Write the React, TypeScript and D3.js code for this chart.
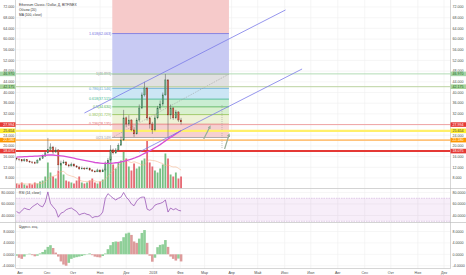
import React, { useEffect } from 'react';
import * as d3 from 'd3';

const W = 466;
const H = 275;

// ---- data (3-day samples starting 2017-07-28) ----
const startDate = new Date(2017, 6, 28);
const stepDays = 3;
const firstOpen = 15.4;
const closes = [15.1, 14.8, 14.4, 14.9, 14.3, 14.0, 13.7, 13.6, 14.7, 15.3, 16.2, 17.4, 18.8, 19.6, 17.7, 18.5,
  12.9, 13.6, 14.0, 12.9, 12.5, 13.2, 12.5, 12.1, 11.4, 11.7, 11.4, 11.7, 11.0, 10.6, 10.3, 11.0,
  10.3, 11.0, 13.6, 14.7, 18.5, 17.4, 18.5, 20.3, 22.2, 30.5, 28.2, 29.7, 26.0, 24.5, 29.7, 34.2,
  39.1, 41.7, 30.5, 28.2, 26.0, 30.5, 34.2, 35.7, 39.1, 44.7, 31.6, 34.2, 30.5, 32.7, 29.7, 29.0];
const highs = [15.8, 15.4, 15.0, 15.3, 15.0, 14.6, 14.3, 14.2, 15.0, 15.8, 16.8, 18.0, 23.0, 21.0, 20.0, 19.5,
  18.8, 14.5, 14.8, 14.2, 13.3, 13.8, 13.5, 12.8, 12.4, 12.3, 12.0, 12.2, 11.9, 11.3, 10.9, 11.5,
  11.2, 11.5, 14.2, 15.5, 20.3, 19.0, 19.2, 21.0, 23.5, 33.5, 31.0, 31.5, 30.0, 27.0, 30.5, 35.5,
  40.0, 44.0, 42.0, 31.0, 29.0, 31.5, 35.0, 37.0, 40.0, 46.9, 45.0, 35.5, 34.5, 33.5, 33.0, 30.5];
const lows = [14.6, 14.3, 13.9, 14.1, 14.0, 13.6, 13.3, 13.2, 13.5, 14.4, 15.1, 16.0, 17.2, 18.2, 17.0, 17.5,
  11.0, 12.6, 13.3, 12.5, 12.0, 12.3, 12.2, 11.8, 11.1, 11.2, 11.0, 11.2, 10.7, 10.3, 10.0, 10.2,
  10.0, 10.2, 10.9, 13.2, 14.5, 16.8, 17.0, 18.2, 20.0, 22.0, 27.0, 27.5, 25.5, 23.4, 24.3, 29.0,
  33.8, 38.5, 29.5, 26.5, 24.5, 25.5, 30.0, 33.5, 35.0, 38.8, 23.0, 30.0, 29.8, 30.0, 29.0, 28.0];
const volumes = [5, 4, 6, 4, 3, 5, 4, 6, 5, 7, 8, 12, 26, 16, 12, 10,
  18, 24, 14, 8, 7, 6, 5, 8, 12, 6, 5, 6, 8, 10, 6, 5,
  7, 9, 20, 28, 32, 24, 20, 26, 28, 38, 30, 22, 18, 25, 20, 22,
  28, 30, 48, 26, 22, 18, 16, 20, 24, 35, 30, 14, 12, 16, 10, 12];
const ma100 = [15.8, 15.9, 15.9, 16.0, 16.0, 16.1, 16.1, 16.2, 16.2, 16.3, 16.4, 16.5, 16.6, 16.6, 16.6, 16.5,
  16.4, 16.3, 16.2, 16.0, 15.8, 15.6, 15.4, 15.2, 15.0, 14.8, 14.6, 14.4, 14.2, 14.0, 13.8, 13.7,
  13.6, 13.5, 13.5, 13.5, 13.5, 13.6, 13.7, 13.8, 14.0, 14.2, 14.5, 14.8, 15.1, 15.4, 15.8, 16.2,
  16.7, 17.2, 17.7, 18.2, 18.7, 19.3, 19.9, 20.5, 21.2, 21.9, 22.6, 23.2, 23.8, 24.5, 25.1, 25.8];
const rsiValues = [47, 44, 48, 53, 51, 50, 55, 58, 61, 57, 55, 63, 81, 61, 55, 50,
  37, 44, 46, 50, 52, 53, 50, 47, 41, 43, 44, 42, 41, 36, 38, 38,
  40, 46, 70, 78, 74, 70, 67, 70, 72, 80, 72, 67, 60, 57, 65, 70,
  72, 72, 51, 49, 52, 58, 60, 61, 63, 67, 46, 53, 50, 52, 49, 48];
const aoValues = [-0.5, -1.2, -1.6, -0.8, 0.1, 0.2, -0.3, -0.7, -0.5, 0.3, 0.8, 1.6, 2.6, 3.2, 2.2, 0.6,
  -0.8, -2.5, -3.6, -4.0, -3.0, -1.6, -1.2, -1.0, -0.8, -0.6, -0.3, 0.1, 0.3, -0.3, -0.8, -1.0,
  -1.1, -0.6, 0.3, 1.8, 3.2, 4.3, 4.5, 4.4, 4.6, 6.0, 7.3, 7.6, 6.8, 4.5, 4.0, 5.5,
  7.5, 8.5, 4.0, -0.5, -2.6, -1.2, 2.5, 3.3, 3.5, 5.0, 2.6, -0.8, -1.6, -2.2, -1.5, -2.5];

const priceTicks = [8, 12, 16, 20, 24, 28, 32, 36, 40, 44, 48, 52, 56, 60, 64, 68, 72];
const rsiTicks = [40, 60, 80];
const aoTicks = [-4, 0, 4, 8];
const monthLabels = ['Авг', 'Сен', 'Окт', 'Ноя', 'Дек', '2018', 'Фев', 'Мар', 'Апр', 'Май', 'Июн', 'Июл', 'Авг', 'Сен', 'Окт', 'Ноя', 'Дек'];

const fibLevels = [
  { label: '0(23.149)', value: 23.149, color: '#9a9a9a' },
  { label: '0.236(28.135)', value: 28.135, color: '#e06666' },
  { label: '0.382(31.729)', value: 31.729, color: '#8fbf4f' },
  { label: '0.5(34.630)', value: 34.63, color: '#4caf50' },
  { label: '0.618(37.515)', value: 37.515, color: '#36b58a' },
  { label: '0.786(41.546)', value: 41.546, color: '#5aa9d6' },
  { label: '1(46.893)', value: 46.893, color: '#8a8a8a' },
  { label: '1.618(62.063)', value: 62.063, color: '#7070e0' },
];
const fibZoneColors = ['#f6d0d0', '#eef2d6', '#d9f0cf', '#caedd2', '#cbe6f5', '#e0e0e0', '#c8caf3', '#f6caca'];
const fibStart = new Date(2017, 10, 15);
const fibEnd = new Date(2018, 2, 29);

const hLines = [
  { value: 46.97, label: '46.970', line: '#b3dcb5', width: 1, bg: '#a5d6a7', fg: '#1b5e20' },
  { value: 42.175, label: '42.175', line: '#bcd3a0', width: 1, bg: '#a9d49b', fg: '#1b5e20' },
  { value: 27.994, label: '27.994', line: '#eea3a3', width: 1, bg: '#e53935', fg: '#ffffff' },
  { value: 25.654, label: '25.654', line: '#fff06a', width: 2.2, bg: '#ffee33', fg: '#333333' },
  { value: 22.18, label: '22.180', line: '#ffc27a', width: 1.8, bg: '#ff9800', fg: '#ffffff' },
  { value: 18.075, label: '18.075', line: '#e53935', width: 2, bg: '#e53935', fg: '#ffffff' },
];

const channels = [
  { from: [new Date(2017, 9, 14), 32.33], to: [new Date(2018, 5, 2), 70.9] },
  { from: [new Date(2017, 11, 16), 17.73], to: [new Date(2018, 5, 21), 48.8] },
];
const arrows = [
  { from: [new Date(2018, 1, 28), 22.6], to: [new Date(2018, 2, 7), 27.1] },
  { from: [new Date(2018, 2, 24), 18.85], to: [new Date(2018, 2, 29), 24.1] },
];
const dottedVertical = { date: new Date(2018, 2, 21), from: 19.2, to: 35.3 };

const FONT = 'Liberation Sans, Arial, sans-serif';

export default function App() {
  useEffect(() => {
    document.body.style.margin = '0';
  }, []);

  const L = 16;
  const R = 450.5;
  const mainTop = 0, mainBot = 188.5;
  const rsiTop = 188.5, rsiBot = 222.5;
  const aoTop = 222.5, aoBot = 268.5;

  const x = d3.scaleTime().domain([new Date(2017, 7, 1), new Date(2018, 11, 1)]).range([20, 444]);
  const yP = d3.scaleLinear().domain([8, 72]).range([178, 7]);
  const yR = d3.scaleLinear().domain([40, 80]).range([215.5, 192.5]);
  const yA = d3.scaleLinear().domain([-4, 8]).range([265.7, 231.5]);
  const yV = d3.scaleLinear().domain([0, 50]).range([mainBot, mainBot - 50]);

  const dates = closes.map((_, i) => d3.timeDay.offset(startDate, i * stepDays));
  const opens = closes.map((_, i) => (i === 0 ? firstOpen : closes[i - 1]));
  const step = x(dates[1]) - x(dates[0]);
  const months = d3.timeMonth.range(new Date(2017, 7, 1), new Date(2018, 11, 2));

  const volMA = volumes.map((_, i) => {
    const s = volumes.slice(Math.max(0, i - 6), i + 1);
    return d3.mean(s) as number;
  });

  const maLine = d3.line<number>().x((_, i) => x(dates[i])).y((d) => yP(d))(ma100) || '';
  const volMaLine = d3.line<number>().x((_, i) => x(dates[i])).y((d) => yV(d)).curve(d3.curveMonotoneX)(volMA) || '';
  const rsiLine = d3.line<number>().x((_, i) => x(dates[i])).y((d) => yR(d))(rsiValues) || '';

  const fx0 = x(fibStart), fx1 = x(fibEnd);
  const zoneBounds = fibLevels.map((f) => yP(f.value));

  const axisText = { fontFamily: FONT, fontSize: 3.6, fill: '#4a4a4a' } as const;

  return (
    <svg width={W} height={H} style={{ position: 'absolute', left: 0, top: 0, background: '#fff' }}>
      <defs>
        <clipPath id="mainClip"><rect x={L} y={mainTop} width={R - L} height={mainBot - mainTop} /></clipPath>
        <clipPath id="rsiClip"><rect x={L} y={rsiTop} width={R - L} height={rsiBot - rsiTop} /></clipPath>
        <clipPath id="aoClip"><rect x={L} y={aoTop} width={R - L} height={aoBot - aoTop} /></clipPath>
        <marker id="arrowHead" viewBox="0 0 10 10" refX="5" refY="5" markerWidth="3" markerHeight="3" orient="auto-start-reverse">
          <path d="M0,0 L10,5 L0,10 z" fill="#98ad98" />
        </marker>
      </defs>
      <rect x={0} y={0} width={W} height={H} fill="#ffffff" />

      {/* vertical grid */}
      {months.map((m, i) => (
        <line key={'vg' + i} x1={x(m)} x2={x(m)} y1={0} y2={aoBot} stroke="#efefef" strokeWidth={0.6} />
      ))}
      {/* horizontal grids */}
      {priceTicks.map((t) => (
        <line key={'pg' + t} x1={L} x2={R} y1={yP(t)} y2={yP(t)} stroke="#f0f0f0" strokeWidth={0.6} />
      ))}
      {rsiTicks.map((t) => (
        <line key={'rg' + t} x1={L} x2={R} y1={yR(t)} y2={yR(t)} stroke="#f0f0f0" strokeWidth={0.6} />
      ))}
      {aoTicks.map((t) => (
        <line key={'ag' + t} x1={L} x2={R} y1={yA(t)} y2={yA(t)} stroke="#f0f0f0" strokeWidth={0.6} />
      ))}

      {/* main pane */}
      <g clipPath="url(#mainClip)">
        {/* fib zones */}
        {fibZoneColors.map((c, i) => {
          const yb = zoneBounds[i];
          const yt = i + 1 < zoneBounds.length ? zoneBounds[i + 1] : mainTop;
          return <rect key={'fz' + i} x={fx0} y={yt} width={fx1 - fx0} height={yb - yt} fill={c} />;
        })}
        {fibLevels.map((f, i) => (
          <line key={'fl' + i} x1={fx0} x2={fx1} y1={yP(f.value)} y2={yP(f.value)} stroke={f.color} strokeWidth={0.8} />
        ))}
        {fibLevels.map((f, i) => (
          <text key={'ft' + i} x={fx0 - 1} y={yP(f.value) + 1.2} textAnchor="end" fontFamily={FONT} fontSize={3.6} fill={f.color}>
            {f.label}
          </text>
        ))}
        <line x1={fx0} y1={yP(fibLevels[0].value)} x2={fx1} y2={yP(fibLevels[6].value)} stroke="#9a9a9a" strokeWidth={0.6} strokeDasharray="1,1" />
        <line x1={x(dottedVertical.date)} x2={x(dottedVertical.date)} y1={yP(dottedVertical.from)} y2={yP(dottedVertical.to)} stroke="#9a9a9a" strokeWidth={0.6} strokeDasharray="1,1" />

        {/* volume */}
        {volumes.map((v, i) => (
          <rect key={'v' + i} x={x(dates[i]) - step * 0.35} width={step * 0.7} y={yV(v)} height={mainBot - yV(v)}
            fill={closes[i] >= opens[i] ? '#5fb36c' : '#e2505c'} opacity={0.85} />
        ))}
        <path d={volMaLine} fill="none" stroke="#f6b48a" strokeWidth={0.7} opacity={0.8} />

        {/* horizontal drawn lines */}
        {hLines.map((h) => (
          <line key={'hl' + h.label} x1={L} x2={R} y1={yP(h.value)} y2={yP(h.value)} stroke={h.line} strokeWidth={h.width} />
        ))}

        {/* candles */}
        {closes.map((c, i) => {
          const o = opens[i];
          const up = c >= o;
          const cx = x(dates[i]);
          const yt = yP(Math.max(o, c));
          const yb = yP(Math.min(o, c));
          return (
            <g key={'c' + i}>
              <line x1={cx} x2={cx} y1={yP(highs[i])} y2={yP(lows[i])} stroke="#555" strokeWidth={0.5} />
              <rect x={cx - step * 0.25} width={step * 0.5} y={yt} height={Math.max(0.6, yb - yt)}
                fill={up ? '#6ba583' : '#d75442'} stroke={up ? '#2e6b45' : '#7a2a1c'} strokeWidth={0.3} />
            </g>
          );
        })}

        {/* MA 100 */}
        <path d={maLine} fill="none" stroke="#d64fd6" strokeWidth={1.3} />

        {/* channels */}
        {channels.map((c, i) => (
          <line key={'ch' + i} x1={x(c.from[0] as Date)} y1={yP(c.from[1] as number)} x2={x(c.to[0] as Date)} y2={yP(c.to[1] as number)}
            stroke="#7b7be8" strokeWidth={0.8} />
        ))}
        {/* arrows */}
        {arrows.map((a, i) => (
          <line key={'ar' + i} x1={x(a.from[0] as Date)} y1={yP(a.from[1] as number)} x2={x(a.to[0] as Date)} y2={yP(a.to[1] as number)}
            stroke="#98ad98" strokeWidth={1.2} markerEnd="url(#arrowHead)" />
        ))}
      </g>

      {/* RSI pane */}
      <g clipPath="url(#rsiClip)">
        <rect x={L} y={yR(70)} width={R - L} height={yR(30) - yR(70)} fill="#9c27b0" opacity={0.08} />
        <line x1={L} x2={R} y1={yR(70)} y2={yR(70)} stroke="#c39bd3" strokeWidth={0.5} strokeDasharray="1.5,1" />
        <line x1={L} x2={R} y1={yR(30)} y2={yR(30)} stroke="#c39bd3" strokeWidth={0.5} strokeDasharray="1.5,1" />
        <path d={rsiLine} fill="none" stroke="#8e44ad" strokeWidth={0.7} />
      </g>

      {/* AO pane */}
      <g clipPath="url(#aoClip)">
        {aoValues.map((v, i) => {
          const rising = i === 0 ? true : v >= aoValues[i - 1];
          const y0 = yA(0);
          const y1 = yA(v);
          return (
            <rect key={'ao' + i} x={x(dates[i]) - step / 2} width={step} y={Math.min(y0, y1)} height={Math.abs(y1 - y0)}
              fill={rising ? '#8fcf99' : '#dd9b9b'} />
          );
        })}
      </g>

      {/* pane separators & borders */}
      <line x1={0} x2={W} y1={rsiTop} y2={rsiTop} stroke="#c8c8c8" strokeWidth={0.8} />
      <line x1={0} x2={W} y1={aoTop} y2={aoTop} stroke="#c8c8c8" strokeWidth={0.8} />
      <line x1={L} x2={R} y1={aoBot} y2={aoBot} stroke="#bbbbbb" strokeWidth={0.6} />
      <line x1={L - 0.5} x2={L - 0.5} y1={0} y2={aoBot} stroke="#bbbbbb" strokeWidth={0.6} />
      <line x1={R} x2={R} y1={0} y2={aoBot} stroke="#bbbbbb" strokeWidth={0.6} />

      {/* price axis labels */}
      {priceTicks.filter((t) => yP(t) < mainBot - 2).map((t) => (
        <g key={'pl' + t}>
          <text x={14.3} y={yP(t) + 1.3} textAnchor="end" {...axisText}>{t.toFixed(3)}</text>
          <text x={452.5} y={yP(t) + 1.3} {...axisText}>{t.toFixed(3)}</text>
        </g>
      ))}
      {rsiTicks.map((t) => (
        <g key={'rl' + t}>
          <text x={14.3} y={yR(t) + 1.3} textAnchor="end" {...axisText}>{t.toFixed(4)}</text>
          <text x={452.5} y={yR(t) + 1.3} {...axisText}>{t.toFixed(4)}</text>
        </g>
      ))}
      {aoTicks.map((t) => (
        <g key={'al' + t}>
          <text x={14.3} y={yA(t) + 1.3} textAnchor="end" {...axisText}>{t.toFixed(4)}</text>
          <text x={452.5} y={yA(t) + 1.3} {...axisText}>{t.toFixed(4)}</text>
        </g>
      ))}

      {/* price tags */}
      {hLines.map((h) => (
        <g key={'tag' + h.label}>
          <rect x={0} y={yP(h.value) - 2.3} width={L - 0.5} height={4.6} fill={h.bg} />
          <text x={14.3} y={yP(h.value) + 1.3} textAnchor="end" fontFamily={FONT} fontSize={3.6} fill={h.fg}>{h.label}</text>
          <rect x={R} y={yP(h.value) - 2.3} width={W - R} height={4.6} fill={h.bg} />
          <text x={452.5} y={yP(h.value) + 1.3} fontFamily={FONT} fontSize={3.6} fill={h.fg}>{h.label}</text>
        </g>
      ))}

      {/* time axis */}
      {months.map((m, i) => (
        <text key={'ml' + i} x={x(m)} y={273.5} textAnchor="middle" {...axisText}>{monthLabels[i]}</text>
      ))}

      {/* legends */}
      <text x={19} y={5.5} fontFamily={FONT} fontSize={3.3} fill="#333">Ethereum Classic / Dollar, Д, BITFINEX</text>
      <text x={19} y={10.7} fontFamily={FONT} fontSize={3.3} fill="#333">Объем (20)</text>
      <text x={19} y={15.9} fontFamily={FONT} fontSize={3.3} fill="#333">MA (100, close)</text>
      <text x={19} y={193.5} fontFamily={FONT} fontSize={3.3} fill="#333">RSI (14, close)</text>
      <text x={19} y={228} fontFamily={FONT} fontSize={3.3} fill="#333">Чудесн. осц.</text>
    </svg>
  );
}
